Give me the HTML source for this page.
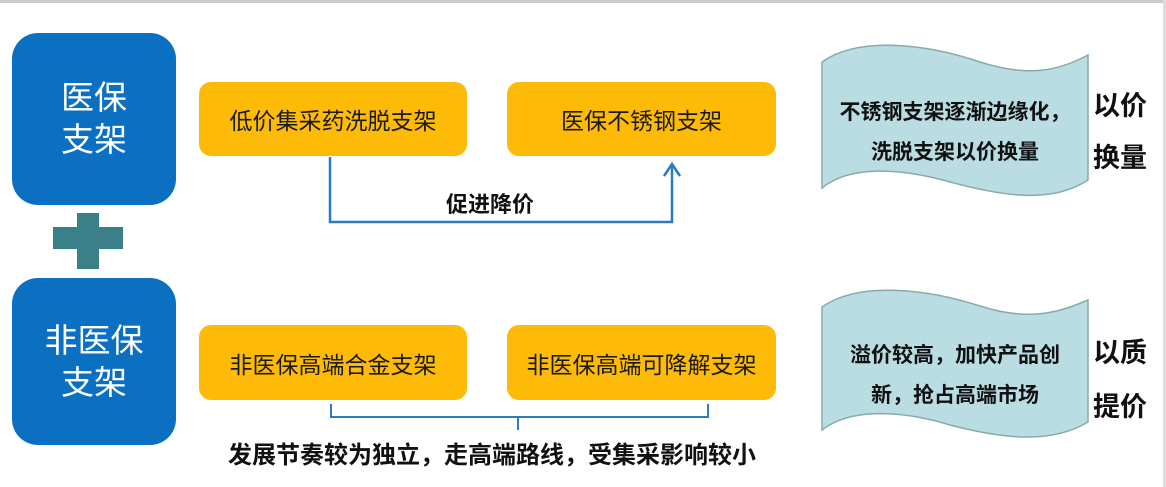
<!DOCTYPE html>
<html><head><meta charset="utf-8"><style>
body{margin:0;width:1166px;height:487px;background:#fff;position:relative;overflow:hidden;font-family:"Liberation Sans","Noto Sans CJK SC",sans-serif}
.b{position:absolute;background:#0b6fc2;border-radius:26px;color:#fff;font-size:33px;line-height:42px;text-align:center;display:flex;align-items:center;justify-content:center}
.o{position:absolute;background:#fdbb07;border-radius:12px;color:#1a1a1a;font-size:23px;display:flex;align-items:center;justify-content:center}
.t{position:absolute;font-weight:bold;color:#111;white-space:nowrap}
</style></head><body>
<div style="position:absolute;left:0;top:0;width:1166px;height:3px;background:#ccc"></div>
<div style="position:absolute;right:0;top:0;width:3px;height:487px;background:#ddd"></div>
<div class="b" style="left:12px;top:33px;width:164px;height:172px">医保<br>支架</div>
<div class="b" style="left:12px;top:278px;width:164px;height:167px">非医保<br>支架</div>
<div style="position:absolute;left:53px;top:227px;width:70px;height:22px;background:#3b8088"></div>
<div style="position:absolute;left:77px;top:213px;width:22px;height:56px;background:#3b8088"></div>
<div class="o" style="left:199px;top:82px;width:268px;height:74px">低价集采药洗脱支架</div>
<div class="o" style="left:507px;top:82px;width:269px;height:74px">医保不锈钢支架</div>
<div class="o" style="left:199px;top:325px;width:268px;height:75px">非医保高端合金支架</div>
<div class="o" style="left:507px;top:325px;width:269px;height:75px">非医保高端可降解支架</div>
<svg width="1166" height="487" style="position:absolute;left:0;top:0">
<polyline points="330,157 330,222 672,222 672,164" fill="none" stroke="#2a7cc0" stroke-width="2.5"/>
<polyline points="664,176 672,164 680,176" fill="none" stroke="#2a7cc0" stroke-width="2.5"/>
<polyline points="331,404 331,417 708,417 708,404" fill="none" stroke="#2a7cc0" stroke-width="2"/>
<line x1="518" y1="417" x2="518" y2="430" stroke="#2a7cc0" stroke-width="2"/>
<path d="M822,62 C860,35 930,45 980,62 C1030,78 1060,70 1088,55 L1088,180 C1050,205 1000,195 950,182 C900,168 850,165 822,188 Z" fill="#b9dde2" stroke="#8aa" stroke-width="1.5"/>
<path d="M822,307 C860,280 930,290 980,306 C1030,322 1060,312 1088,300 L1088,422 C1050,445 1000,438 950,425 C900,410 850,408 822,430 Z" fill="#b9dde2" stroke="#8aa" stroke-width="1.5"/>
</svg>
<div class="t" style="left:446px;top:187px;font-size:22px">促进降价</div>
<div class="t" style="left:228px;top:435px;font-size:24px">发展节奏较为独立，走高端路线，受集采影响较小</div>
<div class="t" style="left:822px;top:93px;width:266px;text-align:center;font-size:21px;line-height:40px">不锈钢支架逐渐边缘化，<br>洗脱支架以价换量</div>
<div class="t" style="left:822px;top:336px;width:266px;text-align:center;font-size:21px;line-height:40px">溢价较高，加快产品创<br>新，抢占高端市场</div>
<div class="t" style="left:1093px;top:80px;font-size:27px;line-height:52px">以价<br>换量</div>
<div class="t" style="left:1093px;top:326px;font-size:27px;line-height:54px">以质<br>提价</div>
</body></html>
